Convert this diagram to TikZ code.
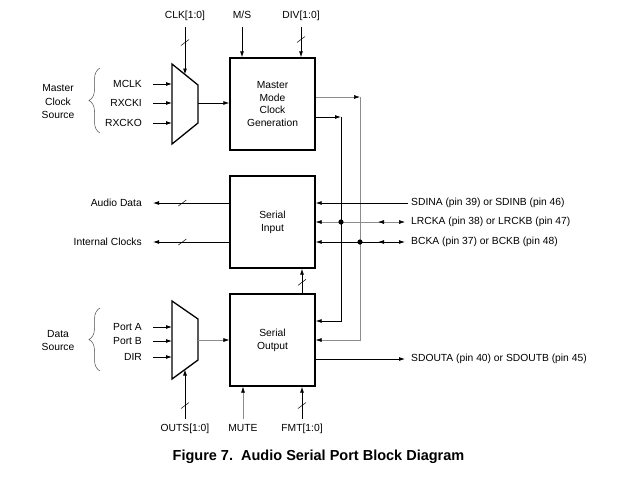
\documentclass[tikz,border=0pt]{standalone}
\usepackage{fontspec}
\setmainfont{Liberation Sans}
\usetikzlibrary{arrows.meta,decorations.pathreplacing,decorations.markings}

\newcommand{\sigfont}{\fontsize{10.3}{12.7}\selectfont}
\tikzset{
  >={Latex[length=6pt,width=4pt,color=black]},
  blockbox/.style={draw,line width=1.3pt,minimum width=85pt,minimum height=92pt,
                   align=center,font=\sigfont},
  sigtext/.style={font=\sigfont,inner sep=0pt},
  llabel/.style={sigtext,anchor=east,inner xsep=11pt},
  rlabel/.style={sigtext,anchor=west,inner xsep=6pt},
  toplabel/.style={sigtext,inner ysep=5.5pt,text height=7.6pt,text depth=2pt},
  srclabel/.style={font=\fontsize{10.3}{13.5}\selectfont,align=center,inner sep=0pt},
  muxline/.style={line width=1.3pt,line join=miter},
  wire/.style={line width=0.8pt},
  faint/.style={line width=0.6pt,black!45},
  srcbrace/.style={decorate,decoration={brace,amplitude=11pt},line width=0.5pt,black!70},
  bus/.style={postaction={decorate,decoration={markings,
      mark=at position #1 with {\pgftransformresetnontranslations
        \draw[line width=0.5pt,black,-] (-4pt,-3pt) -- (4pt,3pt);}}}},
  midtip/.style={postaction={decorate,decoration={markings,
      mark=at position #1 with {\arrow{>}}}}},
}

\begin{document}
\begin{tikzpicture}[x=1pt,y=-1pt]
  \useasboundingbox (0,0) rectangle (620,483);

  %% blocks
  \node[blockbox] (mmcg) at (272.5,104) {Master\\Mode\\Clock\\Generation};
  \node[blockbox] (sin)  at (272.5,222) {Serial\\Input};
  \node[blockbox] (sout) at (272.5,340) {Serial\\Output};

  %% clock source mux
  \draw[muxline] (172,64) -- (198,85) -- (198,123) -- (172,144) -- cycle;
  \coordinate (ckin)  at (172,0);
  \coordinate (ckout) at (198,103);
  \coordinate (cksel) at (185,74.5);
  \node[llabel] (mclk)  at (153,84)  {MCLK};
  \node[llabel] (rxcki) at (153,103) {RXCKI};
  \node[llabel] (rxcko) at (153,123) {RXCKO};
  \foreach \src in {mclk,rxcki,rxcko}
    \draw[wire,->] (\src.east) -- (ckin |- \src);
  \draw[wire,->] (ckout) -- (mmcg.west |- ckout);
  \draw[srcbrace] (100,133) -- (100,68);
  \node[srclabel] (mcsrc) at (58,102) {Master\\Clock\\Source};

  %% top inputs
  \node[toplabel] (clk) at (185,16) {CLK[1:0]};
  \node[toplabel] (ms)  at (242,16) {M/S};
  \node[toplabel] (div) at (301,16) {DIV[1:0]};
  \draw[wire,->,bus=16pt] (clk.south) -- (cksel);
  \draw[wire,->] (ms.south) -- (ms.south |- mmcg.north);
  \draw[wire,->,bus=13pt] (div.south) -- (div.south |- mmcg.north);

  %% clock routing
  \coordinate (bctop) at (360,97);
  \coordinate (bcbot) at (360,340);
  \coordinate (lrtop) at (341,117);
  \coordinate (lrbot) at (341,321);
  \draw[faint,->] (mmcg.east |- bctop) -- (bctop);
  \draw[faint,->] (bctop) -- (bcbot) -- (sout.east |- bcbot);
  \draw[wire,->] (mmcg.east |- lrtop) -- (lrtop);
  \draw[wire,->] (lrtop) -- (lrbot) -- (sout.east |- lrbot);

  %% serial input pins
  \node[sigtext,anchor=west,inner xsep=3pt] (sdin) at (408,203) {SDINA (pin 39) or SDINB (pin 46)};
  \node[rlabel] (lrck) at (405,222) {LRCKA (pin 38) or LRCKB (pin 47)};
  \node[rlabel] (bck)  at (405,242) {BCKA (pin 37) or BCKB (pin 48)};
  \draw[wire,->] (sdin.west) -- (sin.east |- sdin);
  \draw[faint,<->,midtip=27pt] (lrck.west) -- (sin.east |- lrck);
  \draw[wire,<->,midtip=27pt] (bck.west) -- (sin.east |- bck);
  \fill (lrtop |- lrck) circle (2.6pt);
  \fill (bctop |- bck) circle (2.6pt);

  %% serial input outputs
  \node[llabel] (audio)  at (153,203) {Audio Data};
  \node[llabel] (intclk) at (153,242) {Internal Clocks};
  \draw[wire,->,bus=47pt] (sin.west |- audio) -- (audio.east);
  \draw[wire,->,bus=47pt] (sin.west |- intclk) -- (intclk.east);

  %% output to input
  \coordinate (fbx) at (302,0);
  \draw[wire,->,bus=11pt] (sout.north -| fbx) -- (sin.south -| fbx);

  %% data source mux
  \draw[muxline] (172,301) -- (198,319) -- (198,360) -- (172,379) -- cycle;
  \coordinate (dtin)  at (172,0);
  \coordinate (dtout) at (198,340);
  \coordinate (dtsel) at (185,369.5);
  \node[llabel] (porta) at (153,327) {Port A};
  \node[llabel] (portb) at (153,341) {Port B};
  \node[llabel] (dir)   at (153,357) {DIR};
  \foreach \src in {porta,portb,dir}
    \draw[wire,->] (\src.east) -- (dtin |- \src);
  \draw[faint,->] (dtout) -- (sout.west |- dtout);
  \draw[srcbrace] (100,371) -- (100,308);
  \node[srclabel] (dtsrc) at (58,340.5) {Data\\Source};

  %% bottom inputs
  \node[toplabel] (outs) at (185,429) {OUTS[1:0]};
  \node[toplabel] (mute) at (243,429) {MUTE};
  \node[toplabel] (fmt)  at (302,429) {FMT[1:0]};
  \draw[wire,->,bus=13pt] (outs.north) -- (dtsel);
  \draw[faint,->] (mute.north) -- (mute.north |- sout.south);
  \draw[wire,->,bus=13pt] (fmt.north) -- (fmt.north |- sout.south);

  %% serial output pin
  \node[rlabel] (sdout) at (405,359) {SDOUTA (pin 40) or SDOUTB (pin 45)};
  \draw[wire,->] (sout.east |- sdout) -- (sdout.west);

  \node[font=\fontsize{14.5}{17}\selectfont\bfseries] (caption) at (318.5,457)
    {Figure 7.\ \ Audio Serial Port Block Diagram};
\end{tikzpicture}
\end{document}
